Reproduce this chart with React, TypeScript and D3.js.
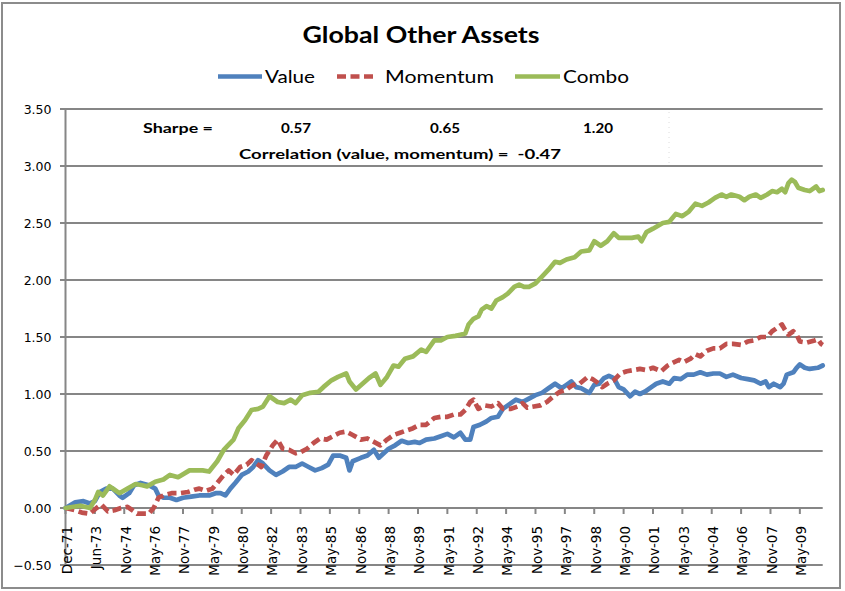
import React from "react";
import * as d3 from "d3";

// ---------- data (month index from Dec-71, cumulative value) ----------
const chartTitle = "Global Other Assets";
const seriesNames = ["Value", "Momentum", "Combo"];
const seriesColors = ["#4F81BD", "#C0504D", "#9BBB59"];

const xLabels = [
  "Dec-71", "Jun-73", "Nov-74", "May-76", "Nov-77", "May-79", "Nov-80", "May-82",
  "Nov-83", "May-85", "Nov-86", "May-88", "Nov-89", "May-91", "Nov-92", "May-94",
  "Nov-95", "May-97", "Nov-98", "May-00", "Nov-01", "May-03", "Nov-04", "May-06",
  "Nov-07", "May-09",
];
const labelStep = 18;
const lastIndex = 464;
const yTicks = [-0.5, 0, 0.5, 1, 1.5, 2, 2.5, 3, 3.5];

const sharpeLabel = "Sharpe =";
const sharpeValues = ["0.57", "0.65", "1.20"];
const correlationText = "Correlation (value, momentum) =  -0.47";

const valueSeries: [number, number][] = [
  [0, 0], [6, 0.05], [11, 0.06], [15, 0.04], [18, 0.06], [21, 0.14], [25, 0.17], [29, 0.17],
  [33, 0.11], [35, 0.09], [39, 0.13], [42, 0.2], [46, 0.22], [51, 0.2], [55, 0.17], [57, 0.11],
  [60, 0.09], [64, 0.09], [68, 0.07], [72, 0.09], [77, 0.1], [82, 0.11], [88, 0.11], [92, 0.13],
  [95, 0.13], [98, 0.11], [101, 0.17], [104, 0.22], [108, 0.29], [112, 0.32], [115, 0.36], [118, 0.42],
  [121, 0.39], [125, 0.33], [129, 0.29], [133, 0.32], [137, 0.36], [141, 0.36], [145, 0.39], [149, 0.36],
  [153, 0.33], [157, 0.35], [161, 0.38], [164, 0.46], [168, 0.46], [172, 0.44], [174, 0.33], [176, 0.41],
  [181, 0.44], [185, 0.46], [189, 0.51], [192, 0.44], [195, 0.48], [198, 0.52], [202, 0.55], [206, 0.59],
  [210, 0.57], [214, 0.58], [217, 0.57], [221, 0.6], [226, 0.61], [230, 0.63], [234, 0.65], [238, 0.62],
  [242, 0.66], [245, 0.6], [248, 0.6], [250, 0.71], [254, 0.73], [258, 0.76], [261, 0.79], [265, 0.8],
  [268, 0.87], [273, 0.92], [276, 0.95], [280, 0.93], [284, 0.96], [288, 0.99], [292, 1.01], [296, 1.05],
  [300, 1.09], [304, 1.05], [307, 1.08], [310, 1.11], [313, 1.06], [316, 1.05], [321, 1.01], [324, 1.08],
  [327, 1.09], [330, 1.14], [333, 1.16], [336, 1.14], [339, 1.06], [342, 1.04], [346, 0.98], [349, 1.02],
  [352, 1.0], [355, 1.02], [359, 1.06], [362, 1.09], [366, 1.11], [370, 1.09], [373, 1.14], [377, 1.13],
  [381, 1.17], [385, 1.17], [389, 1.19], [393, 1.17], [397, 1.18], [401, 1.18], [405, 1.15], [409, 1.17],
  [414, 1.14], [418, 1.13], [422, 1.12], [426, 1.09], [429, 1.11], [431, 1.06], [434, 1.09], [438, 1.06],
  [440, 1.09], [442, 1.17], [446, 1.19], [448, 1.23], [450, 1.26], [453, 1.23], [456, 1.22], [461, 1.23],
  [464, 1.25],
];

const momentumSeries: [number, number][] = [
  [0, 0], [6, -0.02], [10, -0.04], [15, -0.05], [19, 0.0], [22, 0.03], [26, -0.03], [30, -0.02],
  [34, 0.0], [38, 0.01], [41, -0.02], [44, -0.05], [47, -0.05], [51, -0.05], [54, 0.0], [57, 0.09],
  [60, 0.11], [65, 0.13], [70, 0.13], [75, 0.14], [79, 0.16], [82, 0.17], [86, 0.15], [90, 0.17],
  [93, 0.22], [97, 0.29], [100, 0.33], [103, 0.29], [107, 0.36], [111, 0.38], [114, 0.42], [117, 0.39],
  [120, 0.36], [123, 0.46], [127, 0.55], [130, 0.6], [133, 0.52], [137, 0.51], [141, 0.48], [144, 0.49],
  [148, 0.52], [152, 0.57], [156, 0.61], [160, 0.6], [164, 0.63], [168, 0.66], [172, 0.67], [176, 0.64],
  [181, 0.6], [185, 0.61], [189, 0.58], [193, 0.55], [197, 0.6], [201, 0.64], [205, 0.66], [209, 0.68],
  [213, 0.7], [217, 0.73], [221, 0.73], [226, 0.79], [230, 0.8], [234, 0.8], [238, 0.82], [242, 0.82],
  [245, 0.86], [248, 0.93], [250, 0.95], [253, 0.87], [257, 0.9], [261, 0.89], [265, 0.92], [268, 0.87],
  [273, 0.87], [277, 0.89], [280, 0.92], [283, 0.88], [287, 0.89], [291, 0.9], [295, 0.93], [299, 0.98],
  [303, 1.02], [307, 1.04], [311, 1.08], [315, 1.09], [320, 1.15], [323, 1.13], [326, 1.1], [329, 1.06],
  [332, 1.09], [336, 1.12], [340, 1.18], [344, 1.2], [348, 1.21], [352, 1.22], [356, 1.21], [360, 1.23],
  [365, 1.2], [369, 1.25], [373, 1.28], [376, 1.3], [379, 1.28], [383, 1.31], [386, 1.35], [389, 1.33],
  [393, 1.38], [397, 1.4], [401, 1.4], [405, 1.44], [409, 1.44], [414, 1.43], [418, 1.46], [422, 1.47],
  [426, 1.5], [430, 1.5], [433, 1.55], [436, 1.58], [439, 1.61], [441, 1.56], [443, 1.52], [446, 1.55],
  [448, 1.52], [450, 1.46], [454, 1.45], [459, 1.47], [461, 1.48], [463, 1.44], [464, 1.43],
];

const comboSeries: [number, number][] = [
  [0, 0], [9, 0.02], [15, 0.0], [18, 0.07], [20, 0.14], [23, 0.11], [27, 0.19], [30, 0.16],
  [33, 0.13], [38, 0.17], [43, 0.21], [47, 0.2], [50, 0.19], [55, 0.23], [60, 0.25], [64, 0.29],
  [69, 0.27], [76, 0.33], [80, 0.33], [84, 0.33], [88, 0.32], [93, 0.41], [97, 0.51], [99, 0.54],
  [103, 0.6], [106, 0.7], [110, 0.77], [114, 0.86], [118, 0.87], [121, 0.89], [125, 0.98], [130, 0.93],
  [134, 0.92], [138, 0.95], [141, 0.92], [145, 0.99], [150, 1.01], [155, 1.02], [158, 1.06], [163, 1.12],
  [167, 1.15], [172, 1.18], [174, 1.11], [178, 1.04], [182, 1.09], [186, 1.14], [190, 1.18], [193, 1.08],
  [197, 1.15], [201, 1.25], [204, 1.24], [208, 1.31], [213, 1.33], [218, 1.39], [221, 1.37], [226, 1.47],
  [230, 1.47], [234, 1.5], [239, 1.51], [242, 1.52], [245, 1.53], [247, 1.61], [250, 1.66], [253, 1.68],
  [255, 1.74], [258, 1.77], [261, 1.75], [264, 1.82], [268, 1.85], [271, 1.88], [275, 1.94], [278, 1.96],
  [281, 1.94], [284, 1.94], [288, 1.97], [292, 2.03], [296, 2.09], [300, 2.16], [303, 2.15], [307, 2.18],
  [312, 2.2], [316, 2.25], [321, 2.26], [324, 2.34], [328, 2.3], [332, 2.34], [336, 2.41], [339, 2.37],
  [343, 2.37], [347, 2.37], [351, 2.38], [353, 2.34], [356, 2.42], [360, 2.45], [366, 2.5], [370, 2.51],
  [374, 2.58], [378, 2.56], [382, 2.6], [386, 2.67], [390, 2.65], [394, 2.68], [398, 2.72], [402, 2.75],
  [405, 2.73], [408, 2.75], [413, 2.73], [416, 2.7], [419, 2.73], [423, 2.75], [426, 2.72], [430, 2.75],
  [433, 2.78], [436, 2.77], [439, 2.8], [441, 2.77], [443, 2.85], [445, 2.88], [447, 2.86], [449, 2.81],
  [453, 2.79], [456, 2.78], [460, 2.82], [462, 2.78], [464, 2.79],
];

const allSeries = [valueSeries, momentumSeries, comboSeries];

// ---------- component ----------
export default function App() {
  const W = 845;
  const H = 591;
  const plotLeft = 65.5;
  const plotRight = 822.7;
  const x = d3.scaleLinear().domain([0, lastIndex]).range([plotLeft, plotRight]);
  const y = d3.scaleLinear().domain([-0.5, 3.5]).range([565, 109]);
  const line = d3
    .line<[number, number]>()
    .x((d) => x(d[0]))
    .y((d) => y(d[1]))
    .curve(d3.curveLinear);
  const fmt = d3.format(".2f");
  const grid = "#868686";
  const axisFont = "'DejaVu Sans', 'Liberation Sans', Arial, sans-serif";
  const headFont = "Lato, 'Open Sans', Calibri, sans-serif";

  const legendItems = [
    { name: seriesNames[0], color: seriesColors[0], x1: 218, x2: 262, tx: 265, tw: 50, dash: "" },
    { name: seriesNames[1], color: seriesColors[1], x1: 337, x2: 377, tx: 385, tw: 109, dash: "9,4.5" },
    { name: seriesNames[2], color: seriesColors[2], x1: 515, x2: 560, tx: 563, tw: 66, dash: "" },
  ];
  const sharpeX = [296, 445, 598];

  return (
    <svg
      width={W}
      height={H}
      style={{ position: "absolute", left: 0, top: 0, background: "#fff" }}
    >
      <rect x={0} y={0} width={W} height={H} fill="#fff" />
      <rect x={2} y={3} width={838} height={585} fill="none" stroke="#8c8c8c" strokeWidth={2} />

      {/* title */}
      <text
        x={421}
        y={43}
        textAnchor="middle"
        fontFamily={headFont}
        fontWeight={700}
        fontSize={22}
        textLength={237}
        lengthAdjust="spacingAndGlyphs"
        fill="#000"
      >
        {chartTitle}
      </text>

      {/* legend */}
      {legendItems.map((it) => (
        <g key={it.name}>
          <line
            x1={it.x1}
            x2={it.x2}
            y1={76.5}
            y2={76.5}
            stroke={it.color}
            strokeWidth={4.4}
            strokeDasharray={it.dash || undefined}
          />
          <text
            x={it.tx}
            y={83}
            fontFamily={headFont}
            fontSize={17.5}
            textLength={it.tw}
            lengthAdjust="spacingAndGlyphs"
            fill="#000"
          >
            {it.name}
          </text>
        </g>
      ))}

      {/* gridlines */}
      {yTicks.map((t) => (
        <g key={t}>
          <line x1={60} x2={plotRight} y1={y(t)} y2={y(t)} stroke={grid} strokeWidth={2} />
          <text
            x={51.5}
            y={y(t)}
            dy="0.36em"
            textAnchor="end"
            fontFamily={axisFont}
            fontSize={12.5}
            fill="#000"
          >
            {fmt(t)}
          </text>
        </g>
      ))}
      {/* y axis */}
      <line x1={plotLeft} x2={plotLeft} y1={y(3.5)} y2={y(-0.5)} stroke={grid} strokeWidth={2} />

      {/* x ticks and labels */}
      {xLabels.map((lab, k) => {
        const xi = x(k * labelStep);
        return (
          <g key={lab}>
            <line x1={xi} x2={xi} y1={y(0)} y2={y(0) + 6} stroke={grid} strokeWidth={2} />
            <text
              transform={`translate(${xi + 1.5},526) rotate(-90)`}
              textAnchor="end"
              dy="0.36em"
              fontFamily={axisFont}
              fontSize={13.5}
              fill="#000"
            >
              {lab}
            </text>
          </g>
        );
      })}

      {/* annotations */}
      <line x1={669} x2={669} y1={112} y2={164} stroke="#dcdcdc" strokeWidth={1} strokeDasharray="1,4" />
      <text
        x={143}
        y={133}
        fontFamily={headFont}
        fontWeight={700}
        fontSize={13.5}
        textLength={70}
        lengthAdjust="spacingAndGlyphs"
      >
        {sharpeLabel}
      </text>
      {sharpeValues.map((v, i) => (
        <text
          key={v}
          x={sharpeX[i]}
          y={133}
          textAnchor="middle"
          fontFamily={headFont}
          fontWeight={700}
          fontSize={13.5}
          textLength={30}
          lengthAdjust="spacingAndGlyphs"
        >
          {v}
        </text>
      ))}
      <text
        x={239}
        y={158.5}
        fontFamily={headFont}
        fontWeight={700}
        fontSize={13.5}
        textLength={322}
        lengthAdjust="spacingAndGlyphs"
        style={{ whiteSpace: "pre" }}
      >
        {correlationText}
      </text>

      {/* series */}
      {allSeries.map((s, i) => (
        <path
          key={seriesNames[i]}
          d={line(s) || ""}
          fill="none"
          stroke={seriesColors[i]}
          strokeWidth={4.7}
          strokeLinejoin="round"
          strokeLinecap={i === 1 ? "butt" : "round"}
          strokeDasharray={i === 1 ? "9,4.5" : undefined}
        />
      ))}
    </svg>
  );
}
